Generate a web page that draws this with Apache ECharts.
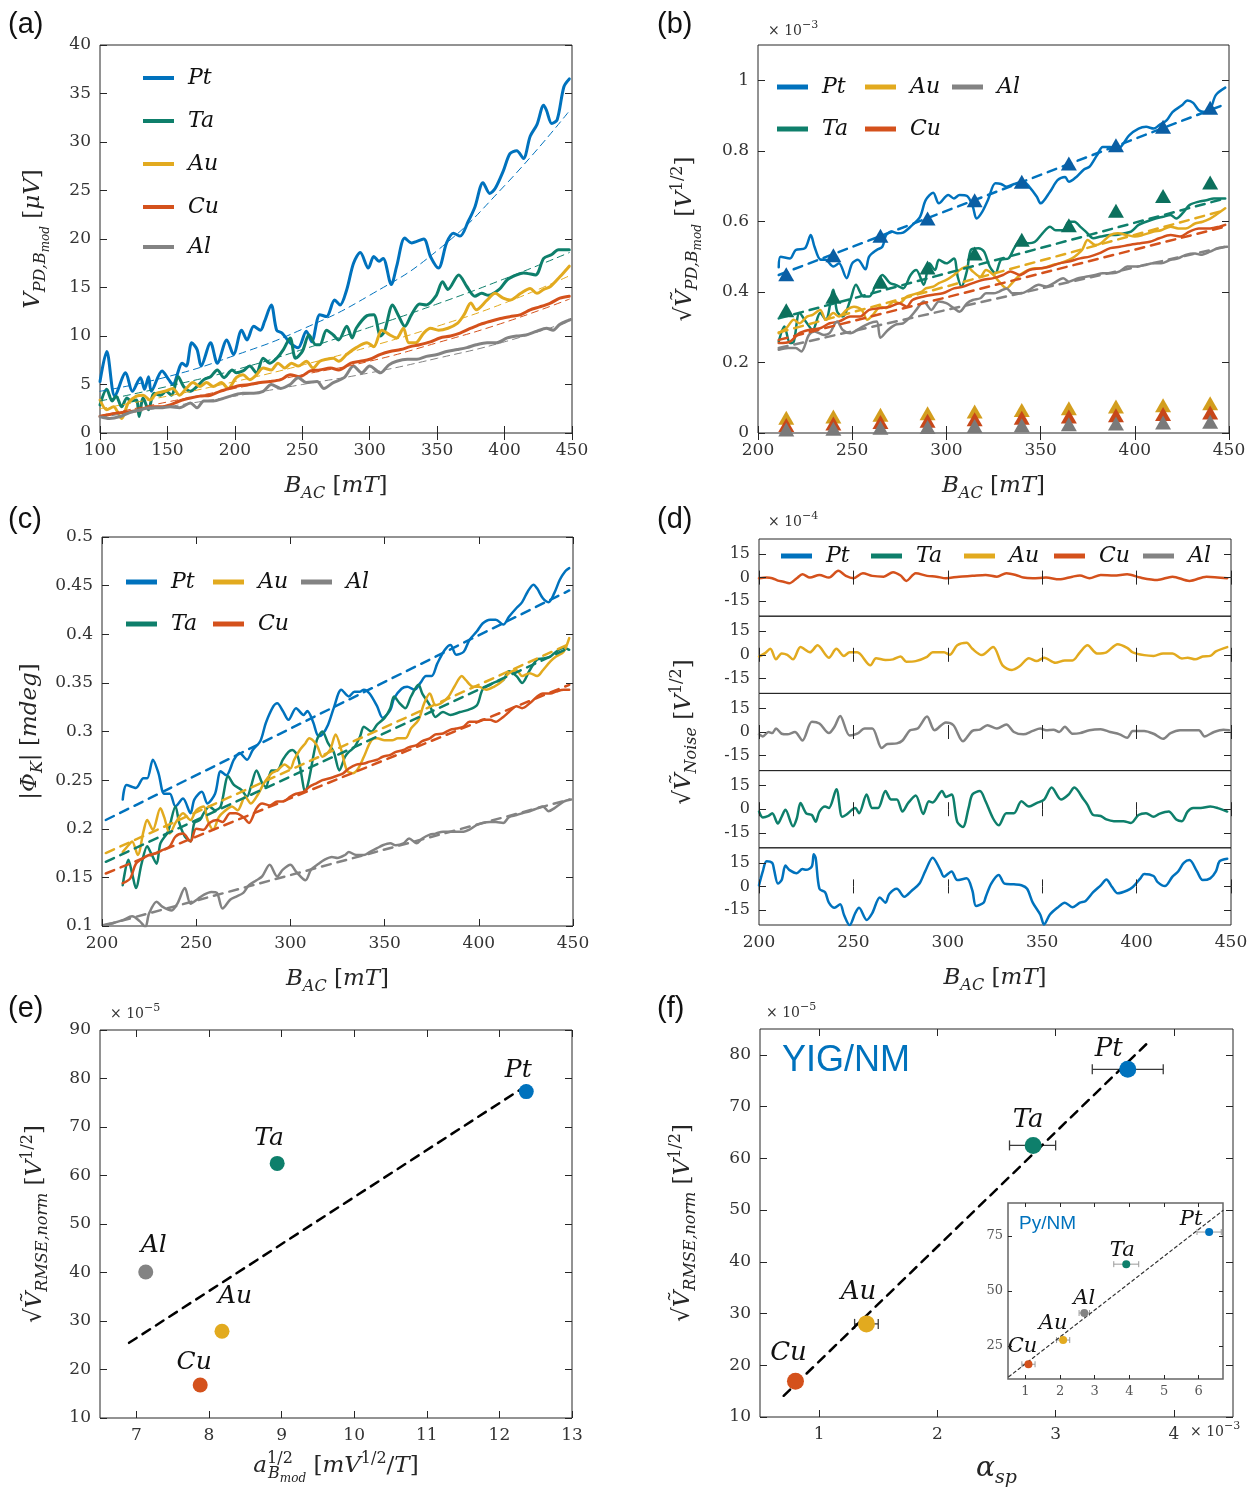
<!DOCTYPE html>
<html>
<head>
<meta charset="utf-8">
<script src="https://cdn.jsdelivr.net/npm/echarts/dist/echarts.min.js"></script>
<style>html,body{margin:0;padding:0;background:#fff}#chart{width:1257px;height:1492px}</style>
</head>
<body>
<div id="chart"></div>
<script>
// ---- (a) V_PD vs B_AC, 100-450 mT ----
var aPtB = [100,105,111,119,124,130,133,136,138,146,151,154,161,164,168,172,175,182,187,194,199,205,209,214,219,222,227,231,235,241,247,253,257,263,268,274,278,283,288,293,299,303,307,310,316,320,326,331,340,345,351,357,362,367,373,378,384,389,393,399,404,409,414,419,424,429,431,435,439,444,448];
var aPtV = [5.3,8.4,3.8,6.2,4.3,5.7,4.5,5.8,4.3,6.4,5.5,5.0,7.2,6.9,9.3,8.6,6.9,9.3,7.2,9.6,8.1,10.6,9.6,11.0,10.6,11.5,13.2,10.6,10.3,9.3,8.8,10.5,9.4,12.2,12.0,13.7,13.2,14.8,17.5,18.6,17.0,18.2,17.7,18.0,15.3,17.2,20.1,19.6,20.0,18.2,17.0,19.6,20.6,20.3,21.8,23.3,25.8,24.7,25.2,27.0,28.8,29.1,28.3,30.6,31.8,33.8,33.3,31.9,32.3,35.7,36.5];
var aTaB = [100,105,109,112,116,120,123,127,129,132,136,140,145,149,153,158,162,167,172,177,182,187,192,198,201,206,211,216,221,226,231,236,241,245,250,255,260,263,268,273,277,283,287,290,298,303,308,311,317,321,326,331,337,342,349,354,358,366,372,378,383,388,396,402,409,414,423,429,435,440,448];
var aTaV = [2.9,4.5,3.3,3.8,2.7,3.6,3.3,3.4,1.7,3.6,2.4,4.1,3.9,4.3,3.9,5.8,4.8,4.3,4.8,5.5,5.8,6.5,5.7,6.5,6.2,6.4,6.9,6.2,7.7,7.2,7.7,8.6,9.8,7.7,8.4,10.1,9.1,9.1,10.6,10.1,9.6,11.0,9.8,10.8,12.1,12.2,10.0,10.5,13.2,12.2,11.0,12.2,13.3,13.2,14.1,15.6,14.8,16.3,15.1,14.1,14.4,14.2,14.8,15.8,16.3,16.5,16.3,18.0,18.4,18.9,18.9];
var aAuB = [100,105,110,116,121,127,132,137,142,148,154,159,164,169,174,179,184,190,195,201,206,211,216,221,227,232,237,242,247,253,258,263,268,273,277,283,290,298,303,309,315,320,325,329,334,340,345,351,358,365,370,375,379,387,393,399,404,412,419,424,429,434,441,448];
var aAuV = [3.4,2.4,2.7,1.5,3.1,3.8,3.9,3.4,4.1,4.3,4.6,3.9,4.6,5.2,4.8,5.2,4.8,5.2,4.6,5.7,6.0,5.5,6.0,6.7,6.5,7.2,6.7,7.2,6.9,7.4,6.7,7.4,7.6,7.7,7.4,8.1,8.8,9.3,8.9,10.6,10.1,9.8,10.8,9.3,9.3,10.3,10.8,10.6,10.8,11.3,12.2,13.4,12.7,13.7,14.4,13.9,13.7,14.4,14.9,14.4,14.8,15.1,16.1,17.2];
var aCuB = [100,107,115,122,130,137,145,152,159,167,174,182,189,196,204,211,219,226,234,241,248,256,263,271,277,286,293,300,308,315,323,330,337,345,352,360,367,375,382,389,397,404,412,419,426,434,441,448];
var aCuV = [1.7,1.9,2.1,2.2,2.4,2.7,2.7,2.9,3.3,3.6,3.8,3.9,4.3,4.6,4.9,5.0,5.2,5.3,5.5,6.0,5.8,6.4,6.5,6.7,6.5,7.2,7.4,7.6,8.1,8.4,8.6,8.9,9.1,9.4,9.8,10.0,10.3,10.8,11.2,11.5,11.8,12.0,12.2,12.7,13.0,13.4,13.9,14.1];
var aAlB = [100,107,115,122,130,137,145,152,159,167,172,177,184,192,199,206,214,221,227,234,241,247,253,261,266,273,281,288,294,300,308,314,320,328,335,342,350,357,365,372,379,387,394,402,409,416,424,431,436,441,449];
var aAlV = [1.7,1.5,1.7,2.1,2.4,2.6,2.6,2.7,2.6,3.1,2.6,3.3,3.3,3.6,3.9,4.1,4.1,4.3,5.0,4.6,5.0,5.7,5.2,5.3,4.6,5.2,5.7,6.9,6.2,6.9,6.2,7.0,7.4,7.6,7.6,7.9,8.1,8.4,8.6,8.8,9.1,9.3,9.3,9.8,10.0,10.1,10.5,10.8,10.6,11.2,11.7];
var aPtFit = [[100,4.3],[150,5.8],[200,8.0],[250,10.7],[300,14.2],[350,18.8],[400,25.5],[448,33.2]];
var aTaFit = [[100,3.3],[150,4.8],[200,6.5],[250,8.6],[300,10.9],[350,13.3],[400,15.9],[448,18.6]];
var aAuFit = [[100,2.5],[150,3.8],[200,5.3],[250,7.0],[300,8.9],[350,11.0],[400,13.4],[448,16.2]];
var aCuFit = [[100,1.8],[150,3.2],[200,4.6],[250,6.0],[300,7.4],[350,9.3],[400,11.4],[448,13.8]];
var aAlFit = [[100,1.6],[150,2.7],[200,3.8],[250,5.0],[300,6.2],[350,7.7],[400,9.4],[448,11.5]];

// ---- (b) sqrt V_PD (x1e-3) ----
var bPtB = [211,212,217,220,225,228,230,233,236,240,243,247,250,253,257,259,263,266,268,271,274,277,281,286,289,293,296,301,304,307,311,314,316,319,322,326,329,332,336,341,344,348,350,355,359,363,365,369,373,376,380,383,387,390,394,397,402,406,410,413,417,420,425,428,431,434,437,440,443,448];
var bPtV = [0.470,0.500,0.495,0.519,0.524,0.561,0.528,0.492,0.491,0.472,0.481,0.439,0.481,0.491,0.464,0.500,0.519,0.528,0.561,0.571,0.566,0.568,0.585,0.613,0.660,0.681,0.651,0.675,0.665,0.675,0.672,0.642,0.608,0.627,0.660,0.708,0.706,0.698,0.706,0.712,0.698,0.670,0.651,0.684,0.717,0.726,0.712,0.726,0.747,0.755,0.788,0.811,0.811,0.800,0.821,0.844,0.863,0.868,0.863,0.873,0.887,0.910,0.929,0.943,0.936,0.915,0.910,0.917,0.958,0.979];
var bTaB = [211,214,217,219,222,226,229,233,236,240,242,245,249,252,256,259,263,266,270,273,277,281,284,288,291,294,296,300,304,306,308,311,313,317,320,323,326,329,333,336,340,343,347,351,355,358,362,365,368,371,374,378,382,387,390,394,398,402,406,411,415,419,422,426,429,434,438,442,448];
var bTaV = [0.259,0.302,0.255,0.259,0.340,0.311,0.292,0.340,0.321,0.406,0.344,0.330,0.377,0.420,0.387,0.387,0.425,0.448,0.425,0.420,0.410,0.448,0.462,0.420,0.481,0.462,0.491,0.481,0.495,0.443,0.415,0.462,0.519,0.524,0.514,0.472,0.453,0.491,0.495,0.524,0.552,0.538,0.542,0.566,0.585,0.575,0.575,0.599,0.599,0.585,0.571,0.552,0.557,0.561,0.561,0.566,0.571,0.590,0.599,0.608,0.613,0.618,0.608,0.627,0.646,0.656,0.660,0.665,0.665];
var bAuB = [211,215,219,222,226,229,233,236,240,243,247,251,255,258,261,265,268,272,275,279,282,287,289,293,296,300,304,307,311,314,318,321,325,328,332,334,338,342,347,351,356,360,365,368,372,375,379,382,387,391,396,400,404,410,414,419,423,427,432,436,440,443,448];
var bAuV = [0.283,0.297,0.321,0.311,0.330,0.335,0.349,0.321,0.340,0.330,0.349,0.358,0.349,0.321,0.335,0.358,0.354,0.373,0.368,0.387,0.392,0.401,0.410,0.415,0.425,0.434,0.448,0.462,0.472,0.458,0.443,0.462,0.448,0.429,0.410,0.420,0.443,0.458,0.467,0.467,0.476,0.481,0.491,0.500,0.519,0.547,0.533,0.538,0.561,0.566,0.561,0.557,0.561,0.571,0.575,0.585,0.580,0.580,0.594,0.599,0.608,0.618,0.637];
var bCuB = [211,217,222,227,233,238,243,249,254,259,265,270,275,279,282,288,293,298,304,309,314,319,325,330,334,339,344,350,355,360,365,371,376,381,387,392,397,403,408,413,419,424,429,434,440,445,448];
var bCuV = [0.255,0.259,0.283,0.292,0.297,0.311,0.316,0.330,0.330,0.349,0.354,0.358,0.368,0.358,0.377,0.387,0.392,0.396,0.410,0.415,0.425,0.434,0.439,0.448,0.458,0.448,0.462,0.467,0.472,0.481,0.486,0.495,0.500,0.509,0.524,0.528,0.533,0.538,0.542,0.552,0.561,0.557,0.571,0.580,0.580,0.585,0.590];
var bAlB = [211,216,220,223,227,230,235,238,242,245,249,254,259,263,265,269,273,277,281,284,288,292,296,300,304,307,311,314,318,321,325,328,332,335,340,344,349,353,357,362,365,370,374,379,383,388,392,396,401,405,410,414,419,423,427,432,435,440,444,449];
var bAlV = [0.236,0.241,0.241,0.231,0.278,0.288,0.278,0.283,0.316,0.292,0.283,0.297,0.311,0.316,0.270,0.292,0.307,0.311,0.330,0.349,0.373,0.349,0.373,0.368,0.354,0.344,0.368,0.377,0.382,0.396,0.396,0.401,0.410,0.396,0.396,0.406,0.420,0.415,0.425,0.439,0.429,0.439,0.443,0.448,0.453,0.453,0.458,0.472,0.472,0.476,0.481,0.481,0.491,0.495,0.505,0.509,0.505,0.514,0.524,0.528];
var bPtFit = [[211,0.448],[448,0.932]];
var bTaFit = [[211,0.325],[448,0.665]];
var bAuFit = [[211,0.285],[448,0.632]];
var bCuFit = [[211,0.264],[448,0.585]];
var bAlFit = [[211,0.241],[448,0.528]];
var bTriB = [215,240,265,290,315,340,365,390,415,440];
var bTriPt = [0.450,0.504,0.559,0.608,0.660,0.712,0.764,0.816,0.868,0.922];
var bTriTa = [0.348,0.386,0.429,0.469,0.509,0.548,0.589,0.630,0.672,0.710];
var bTriAu = [0.043,0.047,0.052,0.056,0.061,0.065,0.070,0.075,0.079,0.084];
var bTriCu = [0.023,0.027,0.031,0.035,0.039,0.043,0.047,0.050,0.054,0.058];
var bTriAl = [0.010,0.012,0.015,0.017,0.020,0.022,0.025,0.027,0.030,0.032];

// ---- (c) |Phi_K| in mdeg ----
var cPtB = [211,213,218,222,224,227,230,233,236,239,243,247,249,253,256,260,263,266,270,273,277,280,284,287,291,293,296,299,303,307,309,312,315,317,320,323,327,331,334,337,339,342,346,349,353,355,359,362,366,369,372,375,378,382,385,388,392,395,399,402,406,409,413,416,420,423,426,429,431,434,437,440,443,446,448];
var cPtV = [0.230,0.245,0.242,0.252,0.252,0.271,0.257,0.236,0.236,0.223,0.231,0.216,0.230,0.238,0.226,0.236,0.259,0.255,0.271,0.278,0.271,0.281,0.290,0.309,0.326,0.329,0.321,0.312,0.324,0.317,0.321,0.310,0.295,0.297,0.307,0.324,0.343,0.336,0.341,0.341,0.343,0.339,0.326,0.314,0.322,0.334,0.344,0.346,0.343,0.350,0.357,0.357,0.370,0.384,0.389,0.379,0.382,0.394,0.403,0.411,0.415,0.415,0.410,0.418,0.427,0.433,0.444,0.451,0.447,0.437,0.433,0.442,0.456,0.465,0.468];
var cTaB = [211,214,216,218,221,224,226,229,231,235,239,241,244,247,249,252,254,257,260,263,267,270,274,277,279,282,285,287,290,293,296,299,301,304,308,310,314,317,320,323,326,329,331,334,337,339,343,346,350,353,355,358,361,364,368,370,374,377,381,385,390,394,399,402,406,409,413,416,420,423,427,431,434,438,441,445,448];
var cTaV = [0.142,0.168,0.154,0.139,0.164,0.182,0.175,0.164,0.185,0.197,0.223,0.206,0.192,0.187,0.206,0.209,0.216,0.223,0.219,0.223,0.254,0.245,0.240,0.233,0.243,0.260,0.247,0.243,0.260,0.260,0.271,0.279,0.281,0.274,0.238,0.252,0.291,0.300,0.288,0.279,0.260,0.274,0.279,0.284,0.295,0.305,0.300,0.307,0.314,0.324,0.336,0.329,0.324,0.336,0.348,0.339,0.327,0.315,0.320,0.317,0.320,0.322,0.327,0.343,0.348,0.351,0.353,0.362,0.357,0.350,0.363,0.374,0.375,0.377,0.382,0.386,0.384];
var cAuB = [211,214,216,219,222,224,227,231,233,236,239,243,247,250,254,256,259,262,265,269,272,276,279,283,286,290,293,297,300,302,305,308,310,314,317,321,324,327,330,333,336,339,343,346,350,354,357,361,364,368,371,374,377,380,384,387,391,393,397,400,404,408,412,416,420,423,427,431,434,438,441,445,448];
var cAuV = [0.176,0.183,0.187,0.173,0.197,0.209,0.199,0.221,0.212,0.195,0.206,0.216,0.209,0.219,0.223,0.209,0.199,0.212,0.218,0.223,0.219,0.233,0.226,0.236,0.247,0.257,0.260,0.266,0.262,0.271,0.281,0.288,0.293,0.286,0.274,0.281,0.297,0.281,0.260,0.257,0.262,0.274,0.291,0.293,0.291,0.291,0.293,0.293,0.303,0.312,0.329,0.339,0.327,0.329,0.336,0.346,0.357,0.353,0.346,0.346,0.343,0.346,0.351,0.360,0.363,0.357,0.360,0.357,0.363,0.372,0.377,0.382,0.396];
var cCuB = [211,215,218,222,225,229,232,236,239,243,247,250,254,257,261,264,268,271,275,278,282,285,289,293,296,300,303,307,310,314,317,321,324,328,331,335,339,342,346,349,353,356,360,363,367,370,374,377,381,385,388,392,395,399,402,406,409,413,416,420,423,427,431,434,438,441,445,448];
var cCuV = [0.144,0.149,0.164,0.170,0.173,0.175,0.178,0.182,0.192,0.195,0.187,0.200,0.199,0.206,0.209,0.207,0.216,0.216,0.212,0.206,0.221,0.226,0.224,0.228,0.228,0.233,0.236,0.238,0.243,0.247,0.250,0.252,0.254,0.257,0.262,0.266,0.267,0.269,0.271,0.274,0.276,0.279,0.281,0.284,0.286,0.290,0.293,0.297,0.298,0.302,0.303,0.305,0.310,0.310,0.312,0.312,0.310,0.315,0.320,0.326,0.324,0.329,0.336,0.339,0.339,0.341,0.343,0.343];
var cAlB = [201,206,211,216,220,223,225,229,232,237,240,244,247,251,254,258,261,264,268,271,275,278,282,285,289,293,296,300,303,308,311,315,318,322,325,329,331,335,339,342,346,349,353,356,360,363,367,370,374,377,381,385,388,392,395,399,402,406,409,413,416,420,423,427,431,434,437,440,445,449];
var cAlV = [0.101,0.103,0.106,0.110,0.105,0.099,0.113,0.125,0.120,0.116,0.123,0.139,0.123,0.128,0.132,0.135,0.134,0.118,0.127,0.130,0.134,0.142,0.147,0.151,0.163,0.151,0.158,0.163,0.156,0.147,0.158,0.164,0.168,0.171,0.170,0.173,0.176,0.173,0.173,0.176,0.180,0.183,0.185,0.183,0.185,0.190,0.185,0.190,0.194,0.195,0.197,0.197,0.197,0.197,0.199,0.204,0.206,0.207,0.207,0.206,0.212,0.214,0.216,0.218,0.221,0.223,0.218,0.221,0.228,0.230];
var cPtFit = [[202,0.209],[448,0.445]];
var cTaFit = [[202,0.166],[448,0.386]];
var cAuFit = [[202,0.175],[448,0.390]];
var cCuFit = [[202,0.154],[448,0.348]];
var cAlFit = [[202,0.101],[448,0.230]];

// ---- (d) noise, x1e-4 ----
var dCu = [[200,-0.4],[204,0],[207,-0.4],[210,-1.9],[213,-2.6],[216,-3.6],[220,-0.4],[223,2.1],[227,0],[232,1.7],[237,0],[242,4.3],[246,1.1],[250,-0.4],[255,2.8],[260,1.1],[266,0.6],[271,3.4],[275,1.3],[278,-2.1],[283,2.8],[289,1.1],[294,0.6],[299,-0.4],[306,0.6],[313,1.1],[320,1.7],[326,0.6],[331,2.8],[336,1.7],[340,0],[345,-0.4],[352,0],[359,-1.1],[366,0.6],[370,1.3],[375,-0.4],[381,1.7],[388,1.3],[395,2.1],[402,0],[411,-1.5],[419,0.6],[428,-2.1],[437,0.6],[448,-0.4]];
var dAu = [[200,-1.1],[203,0.9],[206,3.8],[209,-2.9],[212,0.9],[215,0],[218,-2.9],[222,4.9],[227,1.6],[231,6],[237,-1.8],[241,3.8],[245,-0.7],[248,1.6],[252,1.6],[259,-6.7],[262,-2.2],[267,-3.3],[271,-2.9],[275,-1.1],[278,-4.4],[283,-4],[289,-1.3],[292,1.6],[298,1.6],[301,0],[305,6],[310,7.6],[313,3.8],[318,-0.2],[324,4.9],[329,-6.7],[334,-9.6],[338,-7.3],[343,-2.2],[347,-4],[351,-1.8],[357,-5.1],[362,-3.6],[366,-3.6],[370,1.6],[374,6],[379,0.9],[384,1.6],[390,6.7],[395,4.4],[398,1.6],[404,-0.2],[409,-0.7],[414,0.9],[419,0.9],[424,-2.4],[427,-1.8],[431,-2.9],[435,-1.1],[439,-0.7],[442,2.2],[448,4.9]];
var dAl = [[200,-1.5],[202,-2.8],[205,0],[207,-0.7],[209,2.2],[212,-1.1],[215,-1.5],[219,0],[223,-5.4],[228,6.5],[232,5.4],[237,-0.7],[240,3.3],[243,10.2],[248,-2.2],[252,-1.1],[256,2.2],[260,2.2],[265,-10.2],[268,-7.6],[273,-7.2],[276,-5.4],[280,1.1],[284,2.2],[289,9.8],[293,1.1],[299,6.1],[303,4.3],[308,-5.9],[313,0.7],[317,1.5],[321,4.3],[326,2.2],[331,4.8],[335,0],[340,-1.5],[345,0.7],[349,2.2],[352,1.1],[356,1.5],[359,0],[362,3.3],[366,-1.1],[370,-0.7],[375,1.1],[381,1.7],[386,0],[391,-1.5],[395,-3.7],[398,0.7],[404,0.7],[409,-1.1],[414,-4.3],[418,-0.7],[423,1.1],[428,1.1],[433,1.1],[436,-2.8],[441,0],[446,1.5],[449,1.1]];
var dTa = [[200,-1.5],[202,-5.2],[205,-4.3],[207,-2.6],[210,-9.1],[212,-4.8],[214,-0.4],[218,-10.9],[220,-5.9],[222,3.9],[225,-2.6],[228,-3.7],[230,-8],[232,-1.5],[235,1.7],[237,0.7],[241,12.6],[244,-4.8],[246,-3.7],[251,0.7],[253,-2.6],[257,9.3],[260,0.7],[263,0.7],[267,11.5],[270,6.1],[273,6.1],[276,-1.5],[279,3.9],[283,8.7],[287,-3],[290,5],[292,4.3],[297,11.5],[299,7.8],[302,9.3],[305,-8],[308,-11.3],[311,0.7],[313,9.3],[317,11.5],[320,5],[324,-5.9],[327,-10.2],[331,-2.6],[335,-2.6],[339,5],[343,1.7],[347,3.9],[351,6.1],[355,13.7],[360,6.1],[364,9.3],[367,13.7],[372,6.1],[374,2.8],[377,-3.7],[381,-4.3],[384,-6.5],[388,-7.6],[393,-7.6],[397,-8.7],[401,-3.7],[405,-2.6],[409,-4.8],[412,-3],[417,-1.5],[421,-6.5],[424,-7.6],[427,-1.5],[430,0.7],[434,0.7],[439,1.7],[443,0.7],[448,-1.5]];
var dPt = [[200,0.7],[202,9.5],[204,16.0],[207,14.9],[208,10.5],[210,1.8],[212,4.0],[214,13.2],[216,10.5],[220,8.4],[223,11.0],[225,10.5],[228,12.7],[229,20.4],[230,18.2],[232,-1.5],[235,-3.7],[237,-10.3],[240,-13.6],[243,-11.4],[245,-18.0],[248,-24.6],[251,-16.9],[253,-13.6],[257,-21.3],[260,-16.9],[264,-7.0],[267,-10.3],[269,-4.8],[273,-1.5],[277,-6.6],[281,-2.6],[285,1.8],[288,9.5],[292,18.2],[296,10.5],[298,6.2],[302,9.5],[305,4.0],[310,5.1],[313,-2.6],[315,-12.5],[319,-10.3],[320,-7.0],[323,1.8],[327,7.3],[330,1.8],[335,1.3],[339,0.7],[342,-1.5],[345,-10.3],[349,-18.0],[351,-24.2],[354,-18.0],[358,-13.6],[362,-10.3],[366,-13.2],[370,-10.3],[373,-9.2],[377,-3.7],[381,0.7],[384,4.4],[387,-0.4],[390,-4.4],[395,-2.6],[398,-0.4],[402,5.1],[404,7.9],[409,6.6],[411,2.9],[415,0.2],[419,6.2],[422,9.5],[425,14.9],[428,16.7],[432,9.5],[435,4.0],[439,5.1],[442,9.5],[444,16.0],[448,17.6]];

// ---- (e) RMSE vs a^1/2 ----
var eNames = ['Pt','Ta','Al','Au','Cu'];
var eX = [12.37, 8.94, 7.13, 8.18, 7.88];
var eY = [77.3, 62.5, 40.1, 27.9, 16.8];
var eFit = [[6.9,25.5],[12.4,78.8]];

// ---- (f) RMSE vs alpha_sp (YIG/NM) and inset (Py/NM) ----
var fNames = ['Pt','Ta','Au','Cu'];
var fX = [3.61, 2.81, 1.40, 0.80];
var fY = [77.2, 62.5, 28.0, 16.9];
var fXlo = [3.31, 2.61, 1.30, 0.76];
var fXhi = [3.91, 3.00, 1.50, 0.84];
var fFit = [[0.70,14.1],[3.80,82.8]];
var gNames = ['Pt','Ta','Al','Au','Cu'];
var gX = [6.30, 3.91, 2.70, 2.09, 1.09];
var gY = [76.8, 62.2, 40.0, 27.7, 16.7];
var gXlo = [5.95, 3.55, 2.55, 1.90, 0.90];
var gXhi = [6.65, 4.27, 2.85, 2.28, 1.28];
var gFit = [[0.52,11.0],[6.70,86.6]];

// ---------------- styling / building ----------------
var INK = '#262626';
var MATH = 'DejaVu Serif';
var NUMF = 'DejaVu Serif';
var MAT = {Pt: '#0072BD', Ta: '#0E7F6B', Au: '#E2AA1F', Cu: '#D4511C', Al: '#838383'};
var TRI = {Pt: '#0A5EA4', Ta: '#0C705D', Au: '#D39E1E', Cu: '#C7471A', Al: '#7A7A7A'};
var MATS = ['Pt', 'Ta', 'Au', 'Cu', 'Al'];

function zip(xs, ys) {
    return xs.map(function (x, i) { return [x, ys[i]]; });
}

// rich text pieces for the math-like axis titles; every token left-aligned so they run in sequence
function mathRich(fs) {
    var s = Math.round(fs * 0.68), ss = Math.round(fs * 0.52), L = Math.round(fs * 1.6);
    return {
        i: {fontFamily: MATH, fontStyle: 'italic', fontSize: fs, lineHeight: L, color: INK, align: 'left'},
        r: {fontFamily: MATH, fontSize: fs, lineHeight: L, color: INK, align: 'left'},
        sub: {fontFamily: MATH, fontStyle: 'italic', fontSize: s, lineHeight: s, verticalAlign: 'bottom', padding: [0, 0, 3, 0], color: INK, align: 'left'},
        ss: {fontFamily: MATH, fontStyle: 'italic', fontSize: ss, lineHeight: ss, verticalAlign: 'bottom', color: INK, align: 'left'},
        sup: {fontFamily: MATH, fontSize: s, lineHeight: s, verticalAlign: 'top', padding: [3, 0, 0, 0], color: INK, align: 'left'},
        // superscript taking no width, so the following subscript sits under it
        sup0: {fontFamily: MATH, fontSize: s, lineHeight: s, verticalAlign: 'top', padding: [3, 0, 0, 0], width: 1, color: INK, align: 'left'}
    };
}
var R21 = mathRich(23);
var R26 = mathRich(28);

var grids = [], xAxes = [], yAxes = [], series = [], legends = [], graphics = [];

function axisBase(o, show) {
    var ax = {
        type: 'value',
        min: o.min,
        max: o.max,
        axisLine: {show: false},
        axisTick: {show: true, inside: true, length: o.tickLen || 7, lineStyle: {color: o.tickColor || INK, width: 1}},
        splitLine: {show: false},
        axisLabel: {show: show && !o.hideLabels, color: o.color || '#333', fontFamily: NUMF, fontSize: o.fs || 17, margin: o.margin || 9},
        z: 5
    };
    if (o.interval) ax.interval = o.interval;
    if (o.ticks) {
        ax.axisTick.customValues = o.ticks;
        ax.axisLabel.customValues = o.ticks;
    }
    if (o.fmt) ax.axisLabel.formatter = o.fmt;
    if (show && o.name) {
        ax.name = o.name;
        ax.nameLocation = 'middle';
        ax.nameGap = o.gap;
        ax.nameRotate = o.rot || 0;
        ax.nameTextStyle = {rich: o.rich || R21};
    }
    return ax;
}

function panel(rect, xo, yo, gopt) {
    var gi = grids.length;
    grids.push(Object.assign({
        left: rect[0], top: rect[1], width: rect[2], height: rect[3],
        show: true, borderColor: INK, borderWidth: 1, backgroundColor: 'transparent'
    }, gopt || {}));
    var xi = xAxes.length, yi = yAxes.length;
    var xb = axisBase(xo, true); xb.gridIndex = gi; xb.position = 'bottom';
    var xt = axisBase(xo, false); xt.gridIndex = gi; xt.position = 'top';
    var yl = axisBase(yo, true); yl.gridIndex = gi; yl.position = 'left';
    var yr = axisBase(yo, false); yr.gridIndex = gi; yr.position = 'right';
    xAxes.push(xb, xt);
    yAxes.push(yl, yr);
    return {x: xi, y: yi};
}

function addLine(p, name, data, color, width, dash, smooth, z) {
    series.push({
        type: 'line', name: name, xAxisIndex: p.x, yAxisIndex: p.y, data: data,
        symbol: 'none', smooth: smooth, color: color,
        lineStyle: {color: color, width: width, type: dash || 'solid', cap: 'round', join: 'round'},
        silent: true, clip: true, z: z || 2
    });
}

function addLegend(name, left, top, fs, w, h) {
    legends.push({
        data: [name], left: left, top: top, padding: 0, icon: 'rect',
        itemWidth: w || 31, itemHeight: h || 5, selectedMode: false,
        textStyle: {fontFamily: MATH, fontStyle: 'italic', fontSize: fs || 22, lineHeight: 28, color: '#111', padding: [0, 0, 0, 9]}
    });
}

function gtext(x, y, text, style) {
    graphics.push({type: 'text', left: x, top: y, silent: true,
        style: Object.assign({text: text, fill: INK}, style)});
}

function expo(x, y, e) {
    gtext(x, y, '× 10{e|' + e + '}', {
        fontFamily: MATH, fontSize: 14, lineHeight: 22, fill: '#333',
        rich: {e: {fontFamily: MATH, fontSize: 11, lineHeight: 11, verticalAlign: 'top', fill: '#333'}}
    });
}

function addErr(p, lo, hi, ys, color, cap, w) {
    series.push({
        type: 'custom', xAxisIndex: p.x, yAxisIndex: p.y, silent: true, z: 3,
        data: ys.map(function (y, i) { return [lo[i], hi[i], y]; }),
        encode: {x: [0, 1], y: 2},
        renderItem: function (params, api) {
            var a = api.coord([api.value(0), api.value(2)]);
            var b = api.coord([api.value(1), api.value(2)]);
            var st = {stroke: color, lineWidth: w};
            return {type: 'group', children: [
                {type: 'line', shape: {x1: a[0], y1: a[1], x2: b[0], y2: b[1]}, style: st},
                {type: 'line', shape: {x1: a[0], y1: a[1] - cap, x2: a[0], y2: a[1] + cap}, style: st},
                {type: 'line', shape: {x1: b[0], y1: b[1] - cap, x2: b[0], y2: b[1] + cap}, style: st}
            ]};
        }
    });
}

function addPoints(p, name, names, xs, ys, size, fs, offs) {
    series.push({
        type: 'scatter', name: name, xAxisIndex: p.x, yAxisIndex: p.y, symbolSize: size, z: 4, silent: true,
        data: names.map(function (n, i) {
            return {name: n, value: [xs[i], ys[i]], itemStyle: {color: MAT[n], opacity: 1}, label: {offset: offs[n]}};
        }),
        itemStyle: {opacity: 1},
        label: {show: true, position: 'top', distance: 5, formatter: '{b}',
            fontFamily: MATH, fontStyle: 'italic', fontSize: fs, color: '#111'}
    });
}

var xNameB = '{i|B}{sub|AC}{r| [}{i|mT}{r|]}';
var f2 = function (v) { return String(+v.toFixed(2)); };

// (a)
var pa = panel([100, 45, 472, 388],
    {min: 100, max: 450, interval: 50, name: xNameB, gap: 35},
    {min: 0, max: 40, interval: 5, name: '{i|V}{sub|PD,B}{ss|mod}{r| [}{i|μV}{r|]}', gap: 48, rot: 90});
addLine(pa, 'Pt', zip(aPtB, aPtV), MAT.Pt, 3, 'solid', 0.3);
addLine(pa, 'Ta', zip(aTaB, aTaV), MAT.Ta, 3, 'solid', 0.3);
addLine(pa, 'Au', zip(aAuB, aAuV), MAT.Au, 3, 'solid', 0.3);
addLine(pa, 'Cu', zip(aCuB, aCuV), MAT.Cu, 3, 'solid', 0.3);
addLine(pa, 'Al', zip(aAlB, aAlV), MAT.Al, 3, 'solid', 0.3);
addLine(pa, 'Pt fit', aPtFit, MAT.Pt, 1, [7, 5], true, 3);
addLine(pa, 'Ta fit', aTaFit, MAT.Ta, 1, [7, 5], true, 3);
addLine(pa, 'Au fit', aAuFit, MAT.Au, 1, [7, 5], true, 3);
addLine(pa, 'Cu fit', aCuFit, MAT.Cu, 1, [7, 5], true, 3);
addLine(pa, 'Al fit', aAlFit, MAT.Al, 1, [7, 5], true, 3);
[78, 121, 164, 207, 247].forEach(function (y, i) { addLegend(MATS[i], 143, y - 14, 22, 31, 4); });

// (b)
var pb = panel([758, 45, 471, 388],
    {min: 200, max: 450, interval: 50, name: xNameB, gap: 35},
    {min: 0, max: 1.1, ticks: [0, 0.2, 0.4, 0.6, 0.8, 1], fmt: f2,
     name: '{r|√}{i|Ṽ}{sub|PD,B}{ss|mod}{r| [}{i|V}{sup|1/2}{r|]}', gap: 54, rot: 90});
addLine(pb, 'Pt', zip(bPtB, bPtV), MAT.Pt, 2.5, 'solid', 0.3);
addLine(pb, 'Ta', zip(bTaB, bTaV), MAT.Ta, 2.5, 'solid', 0.3);
addLine(pb, 'Au', zip(bAuB, bAuV), MAT.Au, 2.5, 'solid', 0.3);
addLine(pb, 'Cu', zip(bCuB, bCuV), MAT.Cu, 2.5, 'solid', 0.3);
addLine(pb, 'Al', zip(bAlB, bAlV), MAT.Al, 2.5, 'solid', 0.3);
addLine(pb, 'Pt fit', bPtFit, MAT.Pt, 2.5, [9, 7], false, 3);
addLine(pb, 'Ta fit', bTaFit, MAT.Ta, 2.5, [9, 7], false, 3);
addLine(pb, 'Au fit', bAuFit, MAT.Au, 2.5, [9, 7], false, 3);
addLine(pb, 'Cu fit', bCuFit, MAT.Cu, 2.5, [9, 7], false, 3);
addLine(pb, 'Al fit', bAlFit, MAT.Al, 2.5, [9, 7], false, 3);
[['Pt', bTriPt], ['Ta', bTriTa], ['Au', bTriAu], ['Cu', bTriCu], ['Al', bTriAl]].forEach(function (t) {
    series.push({type: 'scatter', name: t[0] + ' tri', xAxisIndex: pb.x, yAxisIndex: pb.y,
        data: zip(bTriB, t[1]), symbol: 'triangle', symbolSize: [16, 14],
        itemStyle: {color: TRI[t[0]], opacity: 1}, silent: true, z: 4});
});
addLegend('Pt', 777, 87 - 14); addLegend('Au', 865, 87 - 14); addLegend('Al', 952, 87 - 14);
addLegend('Ta', 777, 129 - 14); addLegend('Cu', 865, 129 - 14);
expo(768, 20, '−3');

// (c)
var pc = panel([102, 537, 471, 389],
    {min: 200, max: 450, interval: 50, name: xNameB, gap: 35},
    {min: 0.1, max: 0.5, ticks: [0.1, 0.15, 0.2, 0.25, 0.3, 0.35, 0.4, 0.45, 0.5], fmt: f2,
     name: '{r||}{i|Φ}{sub|K}{r|| [}{i|mdeg}{r|]}', gap: 53, rot: 90});
addLine(pc, 'Pt', zip(cPtB, cPtV), MAT.Pt, 2.5, 'solid', 0.3);
addLine(pc, 'Ta', zip(cTaB, cTaV), MAT.Ta, 2.5, 'solid', 0.3);
addLine(pc, 'Au', zip(cAuB, cAuV), MAT.Au, 2.5, 'solid', 0.3);
addLine(pc, 'Cu', zip(cCuB, cCuV), MAT.Cu, 2.5, 'solid', 0.3);
addLine(pc, 'Al', zip(cAlB, cAlV), MAT.Al, 2.5, 'solid', 0.3);
addLine(pc, 'Pt fit', cPtFit, MAT.Pt, 2.5, [9, 7], false, 3);
addLine(pc, 'Ta fit', cTaFit, MAT.Ta, 2.5, [9, 7], false, 3);
addLine(pc, 'Au fit', cAuFit, MAT.Au, 2.5, [9, 7], false, 3);
addLine(pc, 'Cu fit', cCuFit, MAT.Cu, 2.5, [9, 7], false, 3);
addLine(pc, 'Al fit', cAlFit, MAT.Al, 2.5, [9, 7], false, 3);
addLegend('Pt', 126, 582 - 14); addLegend('Au', 213, 582 - 14); addLegend('Al', 301, 582 - 14);
addLegend('Ta', 126, 624 - 14); addLegend('Cu', 213, 624 - 14);

// (d) five stacked strips
var dRows = [['Cu', dCu], ['Au', dAu], ['Al', dAl], ['Ta', dTa], ['Pt', dPt]];
var dH = 77.2;
dRows.forEach(function (r, k) {
    var last = k === dRows.length - 1;
    var xo = {min: 200, max: 450, interval: 50, hideLabels: !last};
    if (last) { xo.name = xNameB; xo.gap = 35; }
    var yo = {min: -24.5, max: 24.5, ticks: [-15, 0, 15], fs: 16};
    if (k === 2) { yo.name = '{r|√}{i|Ṽ}{sub|Noise}{r| [}{i|V}{sup|1/2}{r|]}'; yo.gap = 56; yo.rot = 90; }
    var p = panel([759, 539 + k * dH, 472, dH], xo, yo);
    addLine(p, r[0], r[1], MAT[r[0]], 2.5, 'solid', 0.3);
});
[['Pt', 781], ['Ta', 871], ['Au', 964], ['Cu', 1054], ['Al', 1143]].forEach(function (l) {
    addLegend(l[0], l[1], 556 - 14, 22, 31, 5);
});
expo(768, 511, '−4');

// (e)
var pe = panel([100, 1030, 472, 388],
    {min: 6.5, max: 13, ticks: [7, 8, 9, 10, 11, 12, 13],
     name: '{i|a}{sup0|1/2}{sub|B}{ss|mod}{r| [}{i|mV}{sup|1/2}{r|/}{i|T}{r|]}', gap: 30},
    {min: 10, max: 90, interval: 10,
     name: '{r|√}{i|Ṽ}{sub|RMSE,norm}{r| [}{i|V}{sup|1/2}{r|]}', gap: 46, rot: 90});
addLine(pe, 'e fit', eFit, '#000', 2.5, [9, 7], false, 3);
addPoints(pe, 'e', eNames, eX, eY, 15, 25,
    {Pt: [-8, 4], Ta: [-8, 0], Al: [8, -2], Au: [13, -10], Cu: [-6, 2]});
expo(110, 1003, '−5');

// (f)
var pf = panel([760, 1029, 473, 388],
    {min: 0.5, max: 4.5, ticks: [1, 2, 3, 4], name: '{i|α}{sub|sp}', gap: 29, rich: R26},
    {min: 10, max: 85, ticks: [10, 20, 30, 40, 50, 60, 70, 80],
     name: '{r|√}{i|Ṽ}{sub|RMSE,norm}{r| [}{i|V}{sup|1/2}{r|]}', gap: 58, rot: 90});
addLine(pf, 'f fit', fFit, '#000', 2.5, [9, 7], false, 3);
addErr(pf, fXlo, fXhi, fY, '#3a3a3a', 5, 1.3);
addPoints(pf, 'f', fNames, fX, fY, 17, 26,
    {Pt: [-19, 6], Ta: [-5, 1], Au: [-8, -5], Cu: [-7, -2]});
expo(766, 1002, '−5');
expo(1190, 1421, '−3');
gtext(782, 1043, 'YIG/NM', {fontFamily: 'Liberation Sans', fontSize: 36, fill: '#0072BD'});

// inset (Py/NM)
var pg = panel([1008, 1203, 215, 176],
    {min: 0.5, max: 6.7, ticks: [1, 2, 3, 4, 5, 6], fs: 13, color: '#555', tickLen: 4, margin: 6},
    {min: 10, max: 90, ticks: [25, 50, 75], fs: 13, color: '#555', tickLen: 4, margin: 5},
    {borderColor: '#666', borderWidth: 1.5, backgroundColor: '#fff'});
addLine(pg, 'g fit', gFit, '#333', 1.2, [3, 3], false, 3);
addErr(pg, gXlo, gXhi, gY, '#9a9a9a', 3, 1);
addPoints(pg, 'g', gNames, gX, gY, 8, 21,
    {Pt: [-18, 7], Ta: [-4, 6], Al: [0, 5], Au: [-10, 3], Cu: [-6, 2]});
gtext(1019, 1214, 'Py/NM', {fontFamily: 'Liberation Sans', fontSize: 19, fill: '#0072BD'});

// panel letters
[['(a)', 8, 10], ['(b)', 657, 10], ['(c)', 8, 505], ['(d)', 657, 505], ['(e)', 8, 994], ['(f)', 657, 994]].forEach(function (t) {
    gtext(t[1], t[2], t[0], {fontFamily: 'Liberation Sans', fontSize: 29, fill: '#111'});
});

var chart = echarts.init(document.getElementById('chart'));
chart.setOption({
    animation: false,
    backgroundColor: '#fff',
    textStyle: {fontFamily: NUMF},
    grid: grids,
    xAxis: xAxes,
    yAxis: yAxes,
    legend: legends,
    graphic: graphics,
    series: series
});
</script>
</body>
</html>
